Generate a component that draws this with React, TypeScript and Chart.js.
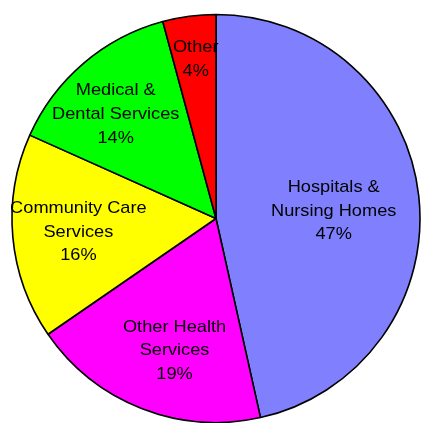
import React, { useEffect, useRef } from "react";
import { Chart, registerables } from "chart.js";

Chart.register(...registerables);

const categories: string[][] = [
  ["Hospitals &", "Nursing Homes"],
  ["Other Health", "Services"],
  ["Community Care", "Services"],
  ["Medical &", "Dental Services"],
  ["Other"],
];
const shares: number[] = [46.5, 18.9, 16.3, 14.1, 4.2];
const sliceColors: string[] = ["#8080FF", "#FF00FF", "#FFFF00", "#00FF00", "#FF0000"];

// label placement (style): radial fraction and angular shift (deg) from slice mid-angle
const labelRadius: number[] = [0.578, 0.679, 0.678, 0.709, 0.787];
const labelShift: number[] = [2.7, -4, -0.4, -3.4, 0.3];

const labelPlugin = {
  id: "sliceLabels",
  afterDatasetsDraw(chart: any) {
    const ctx = chart.ctx;
    const meta = chart.getDatasetMeta(0);
    ctx.save();
    ctx.fillStyle = "#000";
    ctx.font = '17px "Liberation Sans", Arial, sans-serif';
    ctx.textAlign = "center";
    ctx.textBaseline = "middle";
    const lh = 23.7;
    meta.data.forEach((arc: any, i: number) => {
      const p = arc.getProps(["x", "y", "startAngle", "endAngle", "outerRadius"], true);
      const mid = (p.startAngle + p.endAngle) / 2 + (labelShift[i] * Math.PI) / 180;
      const r = p.outerRadius * labelRadius[i];
      const cx = p.x + Math.cos(mid) * r;
      const cy = p.y + Math.sin(mid) * r;
      const lines = [...categories[i], Math.round(shares[i]) + "%"];
      const top = cy - ((lines.length - 1) * lh) / 2;
      lines.forEach((t, k) => {
        ctx.save();
        ctx.translate(cx, top + k * lh);
        ctx.scale(1.07, 1);
        ctx.fillText(t, 0, 0);
        ctx.restore();
      });
    });
    ctx.restore();
  },
};

export default function App() {
  const ref = useRef<HTMLCanvasElement | null>(null);
  useEffect(() => {
    if (!ref.current) return;
    const chart = new Chart(ref.current, {
      type: "pie",
      data: {
        labels: categories.map((c) => c.join(" ")),
        datasets: [
          {
            data: shares,
            backgroundColor: sliceColors,
            borderColor: "#000000",
            borderWidth: 1.6,
            radius: 204,
          } as any,
        ],
      },
      options: {
        animation: false,
        responsive: false,
        events: [],
        layout: { padding: { left: 11.5, right: 0.5, top: 14, bottom: 0 } },
        plugins: {
          legend: { display: false },
          tooltip: { enabled: false },
        },
      },
      plugins: [labelPlugin],
    });
    return () => chart.destroy();
  }, []);
  return (
    <div style={{ position: "absolute", left: 0, top: 0, width: 421, height: 423, background: "#fff" }}>
      <canvas ref={ref} width={421} height={423} style={{ display: "block" }} />
    </div>
  );
}
